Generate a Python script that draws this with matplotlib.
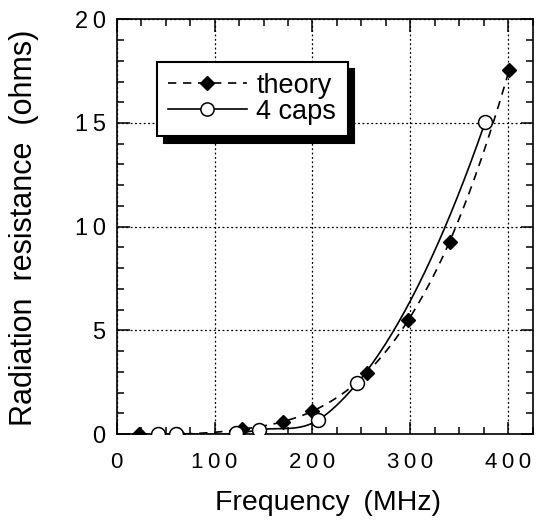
import numpy as np
import matplotlib
matplotlib.use("Agg")
import matplotlib.pyplot as plt
from matplotlib.ticker import MultipleLocator, FixedLocator

plt.rcParams['font.family'] = ['Liberation Sans', 'DejaVu Sans']

theory_f = [23, 42, 63, 128, 170, 200, 255.5, 298, 340, 401]
theory_r = [0.0, 0.0, 0.0, 0.23, 0.6, 1.1, 2.95, 5.5, 9.27, 17.56]
caps_f = [42, 61, 122, 145.5, 206, 246, 376.5]
caps_r = [0.0, 0.0, 0.03, 0.2, 0.68, 2.47, 15.05]

x_ticks = [0, 100, 200, 300, 400]
x_tick_labels = ["0", "1\u20090\u20090", "2\u20090\u20090", "3\u20090\u20090", "4\u20090\u20090"]
y_ticks = [0, 5, 10, 15, 20]
y_tick_labels = ["0", "5", "1\u20090", "1\u20095", "2\u20090"]


def bessel_curve(x, y, n=60):
    # piecewise cubic Hermite with Bessel (three-point parabola) tangents
    x = np.asarray(x, float); y = np.asarray(y, float)
    N = len(x)
    m = np.zeros(N)

    def parab_deriv(i0, i1, i2, at):
        x0, x1, x2 = x[i0], x[i1], x[i2]
        y0, y1, y2 = y[i0], y[i1], y[i2]
        return (y0 * ((at - x1) + (at - x2)) / ((x0 - x1) * (x0 - x2))
                + y1 * ((at - x0) + (at - x2)) / ((x1 - x0) * (x1 - x2))
                + y2 * ((at - x0) + (at - x1)) / ((x2 - x0) * (x2 - x1)))

    for i in range(1, N - 1):
        m[i] = parab_deriv(i - 1, i, i + 1, x[i])
    m[0] = parab_deriv(0, 1, 2, x[0])
    m[-1] = parab_deriv(N - 3, N - 2, N - 1, x[-1])
    xs_all, ys_all = [], []
    for i in range(N - 1):
        h = x[i + 1] - x[i]
        t = np.linspace(0, 1, n)
        h00 = 2 * t**3 - 3 * t**2 + 1; h10 = t**3 - 2 * t**2 + t
        h01 = -2 * t**3 + 3 * t**2; h11 = t**3 - t**2
        xs_all.append(x[i] + t * h)
        ys_all.append(h00 * y[i] + h10 * h * m[i] + h01 * y[i + 1] + h11 * h * m[i + 1])
    return np.concatenate(xs_all), np.concatenate(ys_all)


fig = plt.figure(figsize=(5.37, 5.26), dpi=100)
ax = fig.add_axes([0.2173, 0.1749, 0.7747, 0.7884])

tx, ty = bessel_curve(theory_f, theory_r)
cx, cy = bessel_curve(caps_f, caps_r)
ax.plot(tx, ty, color='k', lw=1.2, ls=(0, (5, 4)), zorder=3)
ax.plot(cx, cy, color='k', lw=1.2, ls='-', zorder=3)
ax.plot(theory_f, theory_r, ls='none', marker='D', ms=6.8, mfc='k', mec='k', zorder=4)
ax.plot(caps_f, caps_r, ls='none', marker='o', ms=10, mfc='white', mec='k', mew=1.1, zorder=5)

h1, = ax.plot([], [], color='k', lw=1.2, ls=(0, (5, 4)), marker='D', ms=6.8, mfc='k', mec='k')
h2, = ax.plot([], [], color='k', lw=1.2, ls='-', marker='o', ms=9.5, mfc='white', mec='k', mew=1.1)
leg = ax.legend([h1, h2], ['theory', '4 caps'], loc='upper left',
                bbox_to_anchor=(0.096, 0.898), borderaxespad=0, fontsize=19.5,
                handlelength=2.9, handletextpad=0.36, labelspacing=0.0,
                borderpad=0.42, fancybox=False, framealpha=1,
                shadow={'ox': 5, 'oy': -5, 'color': 'k', 'alpha': 1})
leg.get_frame().set_edgecolor('k')
leg.get_frame().set_linewidth(1.5)

ax.set_xlim(0, 425)
ax.set_ylim(0, 20)
ax.xaxis.set_major_locator(FixedLocator(x_ticks))
ax.set_xticklabels(x_tick_labels)
ax.yaxis.set_major_locator(FixedLocator(y_ticks))
ax.set_yticklabels(y_tick_labels)
ax.xaxis.set_minor_locator(MultipleLocator(25))
ax.yaxis.set_minor_locator(MultipleLocator(1))
ax.tick_params(which='both', direction='in', top=True, right=True, width=1.1)
ax.tick_params(which='major', length=9)
ax.tick_params(axis='x', which='major', pad=13, labelsize=16)
ax.tick_params(axis='y', which='major', pad=8, labelsize=17)
ax.tick_params(which='minor', length=5)
ax.grid(True, which='major', ls=(0, (1.5, 2)), color='k', lw=0.9)
for s in ax.spines.values():
    s.set_linewidth(1.2)

ax.set_xlabel('Frequency \u2009(MHz)', fontsize=20.5)
ax.set_ylabel('Radiation  resistance  (ohms)', fontsize=22)
ax.xaxis.set_label_coords(0.507, -0.135)
ax.yaxis.set_label_coords(-0.186, 0.497)

fig.savefig('out.png', dpi=100)
